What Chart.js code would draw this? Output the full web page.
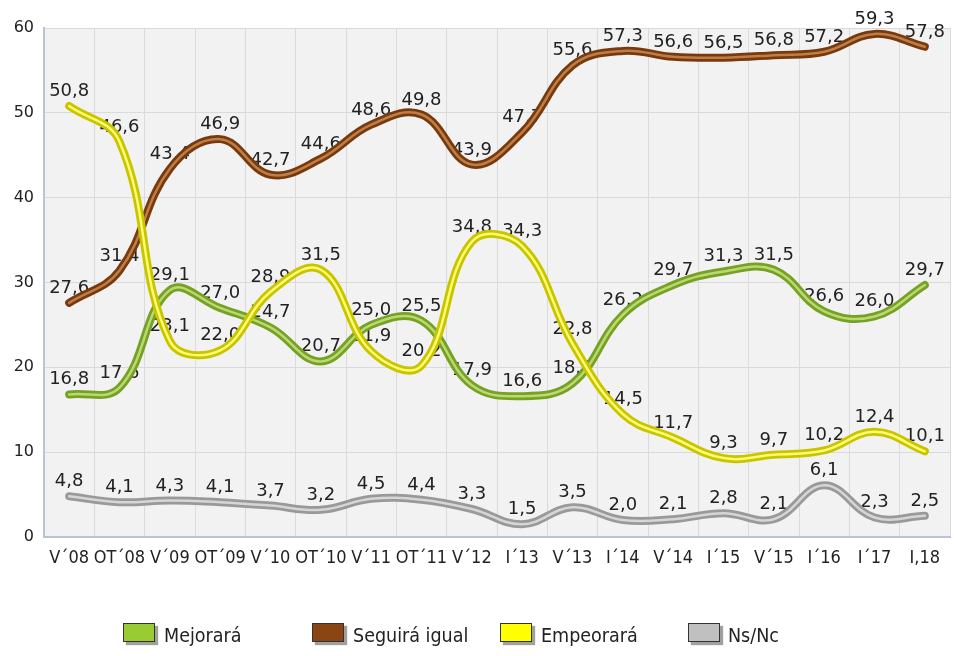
<!DOCTYPE html>
<html>
<head>
<meta charset="utf-8">
<script src="https://cdn.jsdelivr.net/npm/chart.js@4.4.0/dist/chart.umd.min.js"></script>
<style>
    html, body { margin: 0; padding: 0; background: #fff; }
    #wrap { position: relative; width: 954px; height: 656px; }
    #legend { position: absolute; left: 0; top: 0; width: 954px; height: 656px; pointer-events: none; }
    .item { position: absolute; top: 623px; height: 24px; font-family: "DejaVu Sans Condensed", "DejaVu Sans", sans-serif; font-stretch: condensed; font-size: 19.5px; color: #222; }
    .box { position: absolute; left: 0; top: 0; width: 30px; height: 17px; border: 1px solid #333; box-shadow: 3px 3px 1px #a0a0a0; }
    .txt { position: absolute; top: 2px; white-space: nowrap; line-height: 22px; }
</style>
</head>
<body>
<div id="wrap">
    <canvas id="chart" width="954" height="656"></canvas>
    <div id="legend"></div>
</div>
<script>
const labels = ['V´08', 'OT´08', 'V´09', 'OT´09', 'V´10', 'OT´10', 'V´11', 'OT´11', 'V´12',
    'I´13', 'V´13', 'I´14', 'V´14', 'I´15', 'V´15', 'I´16', 'I´17', 'I,18'];

const mejorara = [16.8, 17.6, 29.1, 27.0, 24.7, 20.7, 25.0, 25.5, 17.9, 16.6, 18.1, 26.2, 29.7, 31.3, 31.5, 26.6, 26.0, 29.7];
const seguiraIgual = [27.6, 31.4, 43.4, 46.9, 42.7, 44.6, 48.6, 49.8, 43.9, 47.7, 55.6, 57.3, 56.6, 56.5, 56.8, 57.2, 59.3, 57.8];
const empeorara = [50.8, 46.6, 23.1, 22.0, 28.9, 31.5, 21.9, 20.2, 34.8, 34.3, 22.8, 14.5, 11.7, 9.3, 9.7, 10.2, 12.4, 10.1];
const nsnc = [4.8, 4.1, 4.3, 4.1, 3.7, 3.2, 4.5, 4.4, 3.3, 1.5, 3.5, 2.0, 2.1, 2.8, 2.1, 6.1, 2.3, 2.5];

const yTicks = [0, 10, 20, 30, 40, 50, 60];

// name, values, legend colour, line colour, highlight colour
const series = [
    { name: 'Mejorará', data: mejorara, swatch: '#99cc33', dark: '#76a026', light: '#b9db6e', order: 5 },
    { name: 'Seguirá igual', data: seguiraIgual, swatch: '#8b4513', dark: '#773a0e', light: '#c07d45', order: 3 },
    { name: 'Empeorará', data: empeorara, swatch: '#ffff00', dark: '#c8c400', light: '#fbfb70', order: 1 },
    { name: 'Ns/Nc', data: nsnc, swatch: '#c0c0c0', dark: '#999999', light: '#d6d6d6', order: 7 }
];

const datasets = [];
series.forEach(function (s) {
    datasets.push({
        label: s.name,
        data: s.data,
        borderColor: s.dark,
        borderWidth: 8,
        borderCapStyle: 'round',
        tension: 0.4,
        pointRadius: 0,
        fill: false,
        order: s.order + 1,
        showValues: true
    });
    datasets.push({
        label: s.name + ' brillo',
        data: s.data,
        borderColor: s.light,
        borderWidth: 2.5,
        borderCapStyle: 'round',
        tension: 0.4,
        pointRadius: 0,
        fill: false,
        order: s.order
    });
});

const plotBackground = {
    id: 'plotBackground',
    beforeDraw(chart) {
        const a = chart.chartArea;
        const ctx = chart.ctx;
        ctx.save();
        ctx.fillStyle = '#f2f2f2';
        ctx.fillRect(a.left, a.top, a.right - a.left, a.bottom - a.top);
        ctx.restore();
    }
};

// value labels go under the lines, like in the original
const valueLabels = {
    id: 'valueLabels',
    beforeDatasetsDraw(chart) {
        const ctx = chart.ctx;
        ctx.save();
        ctx.font = '18px "DejaVu Sans", Verdana, sans-serif';
        ctx.fillStyle = '#222';
        ctx.textAlign = 'center';
        ctx.textBaseline = 'alphabetic';
        chart.data.datasets.forEach(function (ds, i) {
            if (!ds.showValues) return;
            chart.getDatasetMeta(i).data.forEach(function (pt, j) {
                const txt = ds.data[j].toFixed(1).replace('.', ',');
                ctx.fillText(txt, pt.x, pt.y - 10);
            });
        });
        ctx.restore();
    }
};

new Chart(document.getElementById('chart'), {
    type: 'line',
    data: { labels: labels, datasets: datasets },
    options: {
        responsive: false,
        animation: false,
        layout: { padding: { top: 28, right: 4, left: 0, bottom: 0 } },
        plugins: {
            legend: { display: false },
            tooltip: { enabled: false }
        },
        scales: {
            x: {
                offset: true,
                grid: { offset: true, color: '#dadada', drawTicks: false },
                border: { color: '#b8c4d8', width: 2 },
                ticks: {
                    autoSkip: false,
                    maxRotation: 0,
                    padding: 11,
                    color: '#222',
                    font: { family: '"DejaVu Sans Condensed", "DejaVu Sans", sans-serif', size: 18 }
                },
                afterFit(scale) { scale.height = 119; }
            },
            y: {
                min: 0,
                max: 60,
                afterBuildTicks(scale) { scale.ticks = yTicks.map(v => ({ value: v })); },
                grid: { color: '#dadada', drawTicks: false },
                border: { color: '#b8c4d8', width: 2 },
                ticks: {
                    padding: 10,
                    color: '#222',
                    font: { family: '"DejaVu Sans", Verdana, sans-serif', size: 16 }
                },
                afterFit(scale) { scale.width = 44; }
            }
        }
    },
    plugins: [plotBackground, valueLabels]
});

const legendBox = [123, 312, 500, 688];
const legendText = [164, 353, 541, 728];
const legend = document.getElementById('legend');
series.forEach(function (s, i) {
    const item = document.createElement('div');
    item.className = 'item';
    item.style.left = legendBox[i] + 'px';
    item.innerHTML = '<div class="box" style="background:' + s.swatch + '"></div>' +
        '<span class="txt" style="left:' + (legendText[i] - legendBox[i]) + 'px">' + s.name + '</span>';
    legend.appendChild(item);
});
</script>
</body>
</html>
